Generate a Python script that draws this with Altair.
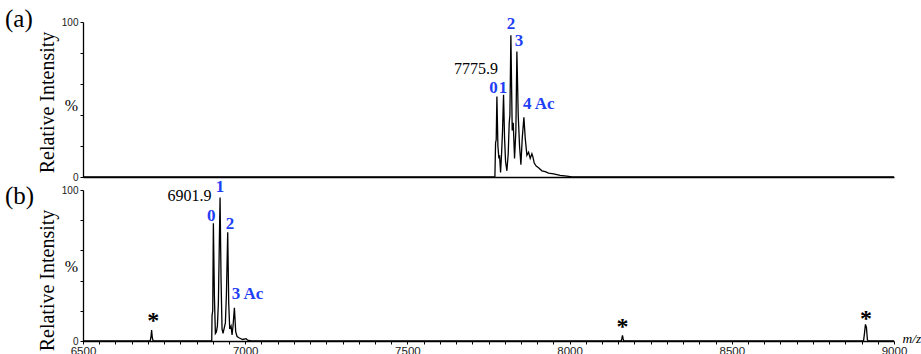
import altair as alt
import pandas as pd

# ---------------- data ----------------
# panel (a) spectrum
a_mz = [6500, 7769.7, 7771.8, 7773.8, 7775.9, 7779.0, 7782.0, 7784.1, 7787.2, 7790.3,
        7793.3, 7796.4, 7799.5, 7802.6, 7806.7, 7810.8, 7813.9, 7816.0, 7819.0, 7823.1,
        7826.2, 7830.3, 7834.4, 7837.5, 7841.6, 7845.7, 7849.9, 7854.0, 7859.1, 7863.2,
        7868.4, 7873.5, 7878.6, 7883.8, 7886.9, 7891.0, 7897.1, 7904.3, 7914.6, 7924.9,
        7935.1, 7950.6, 7971.1, 7991.7, 8007.1, 9000]
a_int = [0, 0, 22, 24, 52, 20, 12, 14, 3, 15,
         30, 53, 25, 10, 4, 15, 35, 40, 91.5, 30,
         35, 12, 30, 81, 40, 20, 8, 25, 38.5, 25,
         14, 16, 12, 15, 13, 9, 7, 6, 4, 3.5,
         2.5, 2, 1, 0.5, 0, 0]

# panel (b) spectrum
b_mz = [6500, 6707, 6709.5, 6711.5, 6713.5, 6716, 6896.8, 6897.8, 6899.9, 6901.9,
        6905.0, 6908.1, 6911.2, 6914.3, 6917.3, 6922.5, 6925.6, 6928.6, 6931.7, 6935.8,
        6938.9, 6942.0, 6946.1, 6949.2, 6952.3, 6956.4, 6959.5, 6962.5, 6966.7, 6970.8,
        6974.9, 6982.1, 6992.3, 7002.6, 7007.8, 7018.0, 8159, 8161, 8163, 8165,
        8167, 8906, 8909, 8912, 8915, 8918, 8920, 9000]
b_int = [0, 0, 2.5, 7.3, 2.5, 0, 0, 17, 20, 78,
         30, 5, 6, 10, 25, 95, 40, 8, 5, 9,
         12, 30, 72, 25, 8, 10, 4, 10, 22, 6,
         3, 2, 1, 1.5, 0.5, 0, 0, 1.5, 3.8, 1.5,
         0, 0, 5, 11, 9, 1, 0, 0]

# annotations
a_num_text, a_num_mz, a_num_int = ["0", "1", "2", "3"], [7765.4, 7794.7, 7819.4, 7844.0], [57.4, 57.7, 98.4, 87.6]
a_ac_text, a_ac_mz, a_ac_int = ["4 Ac"], [7856.3], [47.4]
a_mass_text, a_mass_mz, a_mass_int = ["7775.9"], [7779.0], [69.4]

b_num_text, b_num_mz, b_num_int = ["0", "1", "2"], [6895.6, 6922.3, 6953.1], [82.9, 101.7, 77.4]
b_ac_text, b_ac_mz, b_ac_int = ["3 Ac"], [6958.4], [31.3]
b_mass_text, b_mass_mz, b_mass_int = ["6901.9"], [6896.5], [96.2]
star_mz, star_int = [6716.8, 8163.0, 8913.7], [15.6, 11.9, 17.4]

x_ticks = list(range(6500, 9001, 50))
y_ticks = [0, 20, 40, 60, 80, 100]

# ---------------- style ----------------
SERIF = "Liberation Serif"
SANS = "Liberation Sans"
BLUE = "#1f3ff5"
W = 811
H_TOP, H_BOT = 155, 151

xs = alt.Scale(domain=[6500, 9000], nice=False, zero=False)
ys = alt.Scale(domain=[0, 100], nice=False)


def y_axis(title_y):
    return alt.Axis(values=y_ticks,
                    labelExpr="datum.value == 0 || datum.value == 100 ? datum.label : ''",
                    tickSize=3, tickColor="black", domainColor="black", domainWidth=1.3,
                    labelFont=SANS, labelFontSize=10, labelColor="#222", labelPadding=2,
                    labelOverlap=False, labelFlush=False,
                    grid=False, title="Relative Intensity", titleFont=SERIF,
                    titleFontSize=20, titleFontWeight="normal", titleColor="black",
                    titleAngle=270, titleX=-36, titleY=title_y, titleAlign="center",
                    titleBaseline="middle")


x_axis_top = alt.Axis(labels=False, ticks=False, title=None, grid=False,
                      domainColor="black", domainWidth=1.3)
x_axis_bot = alt.Axis(values=x_ticks, format="d",
                      labelExpr="datum.value % 500 == 0 ? datum.label : ''",
                      tickSize=3, tickColor="black", domainColor="black", domainWidth=1.3,
                      labelFont=SANS, labelFontSize=11.5, labelColor="#222", labelPadding=1,
                      labelFlush=False, labelOverlap=False, grid=False,
                      title="m/z", titleFont=SERIF, titleFontStyle="italic",
                      titleFontWeight="normal", titleFontSize=13.5, titleColor="black",
                      titleX=819, titleY=1, titleAlign="left", titleBaseline="alphabetic")


def panel(mz, inten, x_axis, y_title_y, h, tag, tag_y, pct_y,
          num, ac, mass, stars=None):
    yax = y_axis(y_title_y)

    def xy():
        return dict(x=alt.X("mz:Q", scale=xs, axis=x_axis),
                    y=alt.Y("int:Q", scale=ys, axis=yax))

    line = alt.Chart(pd.DataFrame({"mz": mz, "int": inten})).mark_line(
        color="black", strokeWidth=1.3, interpolate="linear").encode(**xy())
    t_num = alt.Chart(pd.DataFrame({"mz": num[1], "int": num[2], "t": num[0]})).mark_text(
        font=SERIF, fontSize=17, fontWeight="bold", color=BLUE, align="center",
        baseline="middle").encode(text="t:N", **xy())
    t_ac = alt.Chart(pd.DataFrame({"mz": ac[1], "int": ac[2], "t": ac[0]})).mark_text(
        font=SERIF, fontSize=17, fontWeight="bold", color=BLUE, align="left",
        baseline="middle").encode(text="t:N", **xy())
    t_mass = alt.Chart(pd.DataFrame({"mz": mass[1], "int": mass[2], "t": mass[0]})).mark_text(
        font=SERIF, fontSize=16, color="black", align="right",
        baseline="middle").encode(text="t:N", **xy())
    t_tag = alt.Chart(pd.DataFrame({"t": [tag]})).mark_text(
        font=SERIF, fontSize=25, color="black", align="left", baseline="top").encode(
        x=alt.value(-78), y=alt.value(tag_y), text="t:N")
    t_pct = alt.Chart(pd.DataFrame({"t": ["%"]})).mark_text(
        font=SERIF, fontSize=16, color="black", align="center", baseline="middle").encode(
        x=alt.value(-11.5), y=alt.value(pct_y), text="t:N")
    layers = [line, t_num, t_ac, t_mass, t_tag, t_pct]
    if stars is not None:
        t_star = alt.Chart(pd.DataFrame({"mz": stars[0], "int": stars[1], "t": ["*"] * len(stars[0])})).mark_text(
            font=SERIF, fontSize=24, fontWeight="bold", color="black", align="center",
            baseline="middle", dy=4).encode(text="t:N", **xy())
        layers.append(t_star)
    return alt.layer(*layers).properties(width=W, height=h)


top = panel(a_mz, a_int, x_axis_top, 80, H_TOP, "(a)", -15, 84,
            (a_num_text, a_num_mz, a_num_int), (a_ac_text, a_ac_mz, a_ac_int),
            (a_mass_text, a_mass_mz, a_mass_int))
bot = panel(b_mz, b_int, x_axis_bot, 90, H_BOT, "(b)", -6, 76.5,
            (b_num_text, b_num_mz, b_num_int), (b_ac_text, b_ac_mz, b_ac_int),
            (b_mass_text, b_mass_mz, b_mass_int), stars=(star_mz, star_int))

chart = alt.vconcat(top, bot, spacing=13, bounds="flush").properties(
    padding={"left": 5, "top": 7, "right": 0, "bottom": 0},
    background="white",
).configure_view(stroke=None)

chart.save("out.html", embed_options={"renderer": "svg", "actions": False})
